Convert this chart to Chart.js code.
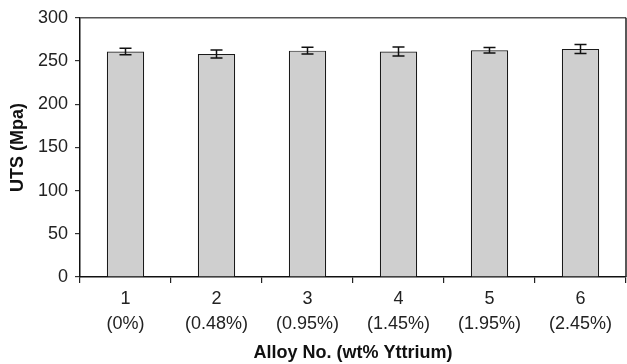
<!DOCTYPE html>
<html>
<head>
<meta charset="utf-8">
<script src="https://cdn.jsdelivr.net/npm/chart.js@4.4.1/dist/chart.umd.min.js"></script>
<style>
  html, body { margin: 0; padding: 0; background: #fff; }
  #wrap { width: 627px; height: 364px; }
</style>
</head>
<body>
<div id="wrap"><canvas id="utsChart"></canvas></div>
<script>
// Alloy categories (number + yttrium content)
const alloyNo = ['1', '2', '3', '4', '5', '6'];
const yttrium = ['(0%)', '(0.48%)', '(0.95%)', '(1.45%)', '(1.95%)', '(2.45%)'];

// UTS values (MPa) and error bar half-widths
const utsValues = [261, 258, 262, 261, 262.5, 264];
const utsErrors = [3.9, 4.6, 3.8, 5.2, 3.2, 5.2];

const yTicks = [0, 50, 100, 150, 200, 250, 300];

// Error bars drawn with the chart's own y scale
const errorBars = {
    id: 'errorBars',
    afterDatasetsDraw(chart) {
        const ctx = chart.ctx;
        const y = chart.scales.y;
        const meta = chart.getDatasetMeta(0);
        ctx.save();
        ctx.strokeStyle = '#111';
        ctx.lineWidth = 1.5;
        meta.data.forEach((bar, i) => {
            const yHi = y.getPixelForValue(utsValues[i] + utsErrors[i]);
            const yLo = y.getPixelForValue(utsValues[i] - utsErrors[i]);
            const cap = 6;
            ctx.beginPath();
            ctx.moveTo(bar.x, yHi); ctx.lineTo(bar.x, yLo);
            ctx.moveTo(bar.x - cap, yHi); ctx.lineTo(bar.x + cap, yHi);
            ctx.moveTo(bar.x - cap, yLo); ctx.lineTo(bar.x + cap, yLo);
            ctx.stroke();
        });
        ctx.restore();
    }
};

// Top and right edges of the plot box
const plotFrame = {
    id: 'plotFrame',
    beforeDatasetsDraw(chart) {
        const { ctx, chartArea: a } = chart;
        ctx.save();
        ctx.lineWidth = 1.5;
        ctx.strokeStyle = '#555';
        ctx.beginPath();
        ctx.moveTo(a.left, a.top); ctx.lineTo(a.right, a.top);
        ctx.stroke();
        ctx.strokeStyle = '#222';
        ctx.beginPath();
        ctx.moveTo(a.right, a.top); ctx.lineTo(a.right, a.bottom);
        ctx.stroke();
        ctx.restore();
    }
};

const ctx = document.getElementById('utsChart').getContext('2d');
new Chart(ctx, {
    type: 'bar',
    data: {
        labels: alloyNo.map((n, i) => [n, yttrium[i]]),
        datasets: [{
            label: 'UTS (Mpa)',
            data: utsValues,
            backgroundColor: '#cfcfcf',
            borderColor: '#1a1a1a',
            borderWidth: 1.2,
            categoryPercentage: 1.0,
            barPercentage: 0.41
        }]
    },
    options: {
        responsive: true,
        maintainAspectRatio: false,
        animation: false,
        layout: { padding: { top: 17, right: 1, left: 0, bottom: 0 } },
        plugins: {
            legend: { display: false },
            tooltip: { enabled: false }
        },
        scales: {
            x: {
                afterFit: (scale) => { scale.height = 87; },
                grid: {
                    offset: true,
                    drawOnChartArea: false,
                    tickLength: 6,
                    color: '#222',
                    lineWidth: 1.2
                },
                border: { color: '#111', width: 1.5 },
                ticks: {
                    color: '#222',
                    padding: 3,
                    font: { family: 'Liberation Sans, Arial, sans-serif', size: 18, lineHeight: 1.4 }
                },
                title: {
                    display: true,
                    text: 'Alloy No. (wt% Yttrium)',
                    color: '#111',
                    padding: { top: 0, bottom: 0 },
                    font: { family: 'Liberation Sans, Arial, sans-serif', size: 18, weight: 'bold', lineHeight: 1.2 }
                }
            },
            y: {
                min: 0,
                max: 300,
                afterFit: (scale) => { scale.width = 80; },
                afterBuildTicks: (scale) => { scale.ticks = yTicks.map(v => ({ value: v })); },
                grid: {
                    drawOnChartArea: false,
                    tickLength: 5,
                    color: '#333',
                    lineWidth: 1.2
                },
                border: { color: '#111', width: 1.5 },
                ticks: {
                    color: '#222',
                    padding: 7,
                    font: { family: 'Liberation Sans, Arial, sans-serif', size: 18 }
                },
                title: {
                    display: true,
                    text: 'UTS (Mpa)',
                    color: '#111',
                    padding: { top: 7, bottom: 0 },
                    font: { family: 'Liberation Sans, Arial, sans-serif', size: 18, weight: 'bold', lineHeight: 1.2 }
                }
            }
        }
    },
    plugins: [plotFrame, errorBars]
});
</script>
</body>
</html>
